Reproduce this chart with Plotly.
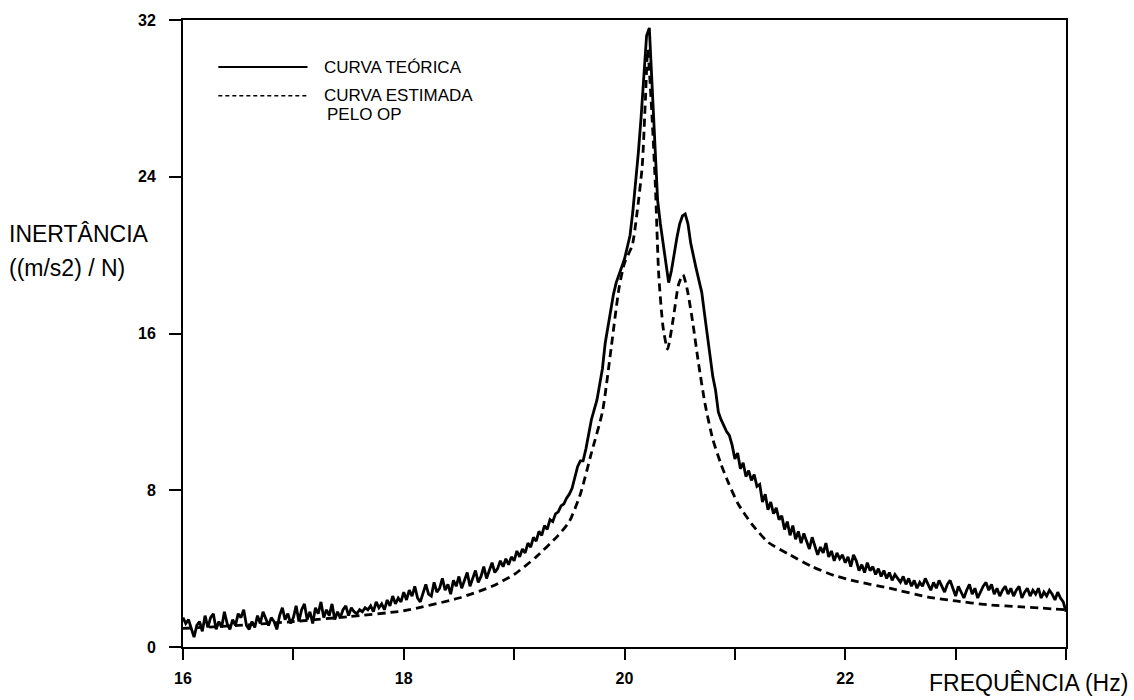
import numpy as np
import plotly.graph_objects as go

# ---------------- data ----------------
freq_start = 16.0
freq_step = 0.025

# measured (noisy) inertance, 0.025 Hz steps from 16.0 to 24.0
theoretical_vals = [
    # 16.0 - 16.475
    1.5, 1.2, 1.4, 0.9, 0.5, 1.1, 1.3, 0.8, 1.6, 1.0, 1.5, 1.7, 0.9, 1.3, 1.0, 1.8, 1.2, 0.9, 1.4, 1.1,
    # 16.5 - 16.975
    1.7, 1.5, 1.9, 1.1, 0.9, 1.3, 1.0, 1.6, 1.2, 1.8, 1.4, 1.1, 1.5, 1.3, 0.9, 1.6, 2.0, 1.4, 1.7, 1.2,
    # 17.0 - 17.475
    1.5, 2.1, 1.3, 1.9, 2.2, 1.4, 1.8, 1.2, 2.0, 1.7, 2.3, 1.5, 1.9, 1.6, 2.2, 1.4, 1.8, 1.5, 1.9, 2.1,
    # 17.5 - 17.975
    1.6, 2.0, 1.8, 1.7, 1.9, 1.8, 2.0, 1.9, 2.1, 1.8, 2.3, 2.0, 2.2, 1.9, 2.4, 2.1, 2.6, 2.2, 2.5, 2.3,
    # 18.0 - 18.475
    2.8, 2.4, 2.9, 2.6, 3.1, 2.5, 2.3, 2.8, 3.2, 2.7, 2.6, 3.3, 2.8, 3.0, 3.5, 2.9, 3.2, 2.7, 3.4, 3.1,
    # 18.5 - 18.975
    3.6, 3.0, 3.4, 3.8, 3.1, 3.5, 3.9, 3.3, 3.6, 4.1, 3.5, 3.9, 4.3, 3.8, 4.0, 4.4, 4.1, 4.5, 4.2, 4.6,
    # 19.0 - 19.475
    4.4, 4.9, 4.6, 5.0, 4.8, 5.3, 5.1, 5.6, 5.4, 5.9, 5.7, 6.2, 6.0, 6.5, 6.4, 6.8, 6.9, 7.2, 7.3, 7.6,
    # 19.5 - 19.975
    7.8, 8.1, 8.6, 9.2, 9.5, 9.5, 10.1, 10.9, 11.6, 12.1, 12.6, 13.4, 14.2, 15.5, 16.4, 17.2, 18.0, 18.6, 19.0, 19.4,
    # 20.0 - 20.475
    19.8, 20.4, 21.0, 22.2, 23.6, 25.2, 27.0, 29.0, 31.2, 31.6, 28.5, 25.5, 22.8, 21.6, 20.5, 19.4, 18.6, 19.2, 20.1, 20.9,
    # 20.5 - 20.975
    21.6, 22.0, 22.1, 21.6, 20.6, 19.9, 19.3, 18.7, 18.1, 17.0, 16.0, 14.9, 13.8, 13.1, 12.0, 11.6, 11.3, 11.0, 10.8, 10.3,
    # 21.0 - 21.475
    9.6, 9.9, 9.1, 9.4, 8.7, 9.0, 8.5, 8.8, 8.2, 8.3, 7.4, 7.8, 7.0, 7.4, 6.8, 7.1, 6.5, 6.7, 6.0, 6.4,
    # 21.5 - 21.975
    5.7, 6.2, 5.5, 5.9, 5.3, 5.8, 5.4, 5.0, 5.6, 5.2, 4.7, 5.1, 4.8, 5.3, 4.6, 4.9, 4.4, 4.8, 4.5, 4.7,
    # 22.0 - 22.475
    4.3, 4.6, 4.1, 4.7, 4.4, 3.9, 4.2, 3.8, 4.3, 3.9, 4.1, 3.7, 4.0, 3.6, 3.9, 3.5, 3.8, 3.4, 3.7, 3.5,
    # 22.5 - 22.975
    3.3, 3.6, 3.2, 3.5, 3.1, 3.4, 3.0, 3.3, 3.1, 3.5, 3.2, 2.9, 3.3, 3.0, 3.4, 3.1, 2.8, 3.2, 3.4, 3.0,
    # 23.0 - 23.475
    2.6, 3.1, 2.8, 2.5, 2.9, 3.2, 2.7, 3.0, 2.5, 2.8, 3.1, 3.3, 2.9, 3.2, 2.7, 3.0, 2.6, 2.9, 3.1, 2.7,
    # 23.5 - 23.975
    3.0, 2.6, 2.9, 3.1, 2.5, 2.8, 3.0, 2.6, 2.9, 2.7, 3.0, 2.5, 2.8, 2.6, 2.9, 2.7, 2.4, 2.8, 2.5, 2.3,
    # 24.0
    1.8,
]
theoretical_freq = [round(freq_start + i * freq_step, 3) for i in range(len(theoretical_vals))]

# curve estimated by the OP method (smooth)
estimated_freq = [16.0, 16.5, 17.0, 17.5, 18.0, 18.5, 18.8, 19.0, 19.2, 19.4, 19.5, 19.6, 19.7,
                  19.8, 19.88, 19.95, 20.0, 20.07, 20.11, 20.16, 20.19, 20.21, 20.25, 20.28,
                  20.31, 20.35, 20.39, 20.44, 20.49, 20.53, 20.57, 20.62, 20.67, 20.73, 20.8,
                  20.87, 20.94, 21.03, 21.15, 21.3, 21.5, 21.7, 21.9, 22.1, 22.4, 22.75, 23.0,
                  23.3, 23.6, 24.0]
estimated_vals = [0.95, 1.1, 1.3, 1.55, 1.85, 2.5, 3.1, 3.7, 4.6, 5.7, 6.4, 7.8, 9.9,
                  12.0, 15.3, 18.3, 19.6, 20.5, 22.0, 24.5, 28.0, 30.5, 27.0, 23.5,
                  19.0, 16.3, 15.2, 16.7, 18.5, 19.0, 18.2, 16.5, 14.5, 12.4, 10.6,
                  9.4, 8.4, 7.3, 6.3, 5.35, 4.7, 4.1, 3.65, 3.35, 3.0, 2.55, 2.35,
                  2.15, 2.05, 1.9]

x_tickvals = [16, 17, 18, 19, 20, 21, 22, 23, 24]
x_ticktext = ["16", "", "18", "", "20", "", "22", "", ""]
y_tickvals = [0, 8, 16, 24, 32]
y_ticktext = ["0", "8", "16", "24", "32"]

legend_solid = "CURVA TEÓRICA"
legend_dash_1 = "CURVA ESTIMADA"
legend_dash_2 = "PELO OP"
y_title_1 = "INERTÂNCIA"
y_title_2 = "((m/s2) / N)"
x_title = "FREQUÊNCIA (Hz)"

# ---------------- figure ----------------
FONT = "Liberation Sans, Arial, sans-serif"

fig = go.Figure()
fig.add_trace(go.Scatter(x=theoretical_freq, y=theoretical_vals, mode="lines",
                         line=dict(color="black", width=2.8), name=legend_solid,
                         showlegend=False))
fig.add_trace(go.Scatter(x=estimated_freq, y=estimated_vals, mode="lines",
                         line=dict(color="black", width=2.8, dash="8px,5px", shape="spline",
                                   smoothing=0.6),
                         name=legend_dash_1, showlegend=False))

axis_common = dict(ticks="outside", tickwidth=1.6, tickcolor="black",
                   showline=True, linecolor="black", linewidth=2, mirror=True,
                   showgrid=False, zeroline=False,
                   tickfont=dict(size=16, family=FONT, weight="bold"))

fig.update_layout(
    width=1134, height=700,
    margin=dict(l=183, r=68, t=18, b=53),
    paper_bgcolor="white", plot_bgcolor="white",
    font=dict(family=FONT, color="black"),
    xaxis=dict(range=[16, 24], tickvals=x_tickvals, ticktext=x_ticktext,
               ticklen=11, ticklabelstandoff=5, **axis_common),
    yaxis=dict(range=[0, 32], tickvals=y_tickvals, ticktext=y_ticktext,
               ticklen=12, ticklabelstandoff=10, **axis_common),
)

# legend drawn manually
fig.add_shape(type="line", xref="paper", yref="paper", x0=0.040, x1=0.141, y0=0.925, y1=0.925,
              line=dict(color="black", width=2))
fig.add_shape(type="line", xref="paper", yref="paper", x0=0.040, x1=0.141, y0=0.879, y1=0.879,
              line=dict(color="black", width=1.5, dash="4px,3px"))
fig.add_annotation(xref="paper", yref="paper", x=0.157, y=0.925, text=legend_solid,
                   showarrow=False, xanchor="left", yanchor="middle",
                   font=dict(size=17, family=FONT))
fig.add_annotation(xref="paper", yref="paper", x=0.157, y=0.880, text=legend_dash_1,
                   showarrow=False, xanchor="left", yanchor="middle",
                   font=dict(size=17, family=FONT))
fig.add_annotation(xref="paper", yref="paper", x=0.161, y=0.850, text=legend_dash_2,
                   showarrow=False, xanchor="left", yanchor="middle",
                   font=dict(size=17, family=FONT))

# axis titles
fig.add_annotation(xref="paper", yref="paper", x=-0.199, y=0.658, text=y_title_1,
                   showarrow=False, xanchor="left", yanchor="middle",
                   font=dict(size=23, family=FONT))
fig.add_annotation(xref="paper", yref="paper", x=-0.199, y=0.604, text=y_title_2,
                   showarrow=False, xanchor="left", yanchor="middle",
                   font=dict(size=23, family=FONT))
fig.add_annotation(xref="paper", yref="paper", x=1.073, y=-0.058, text=x_title,
                   showarrow=False, xanchor="right", yanchor="middle",
                   font=dict(size=23, family=FONT))

fig.write_html("out.html")
